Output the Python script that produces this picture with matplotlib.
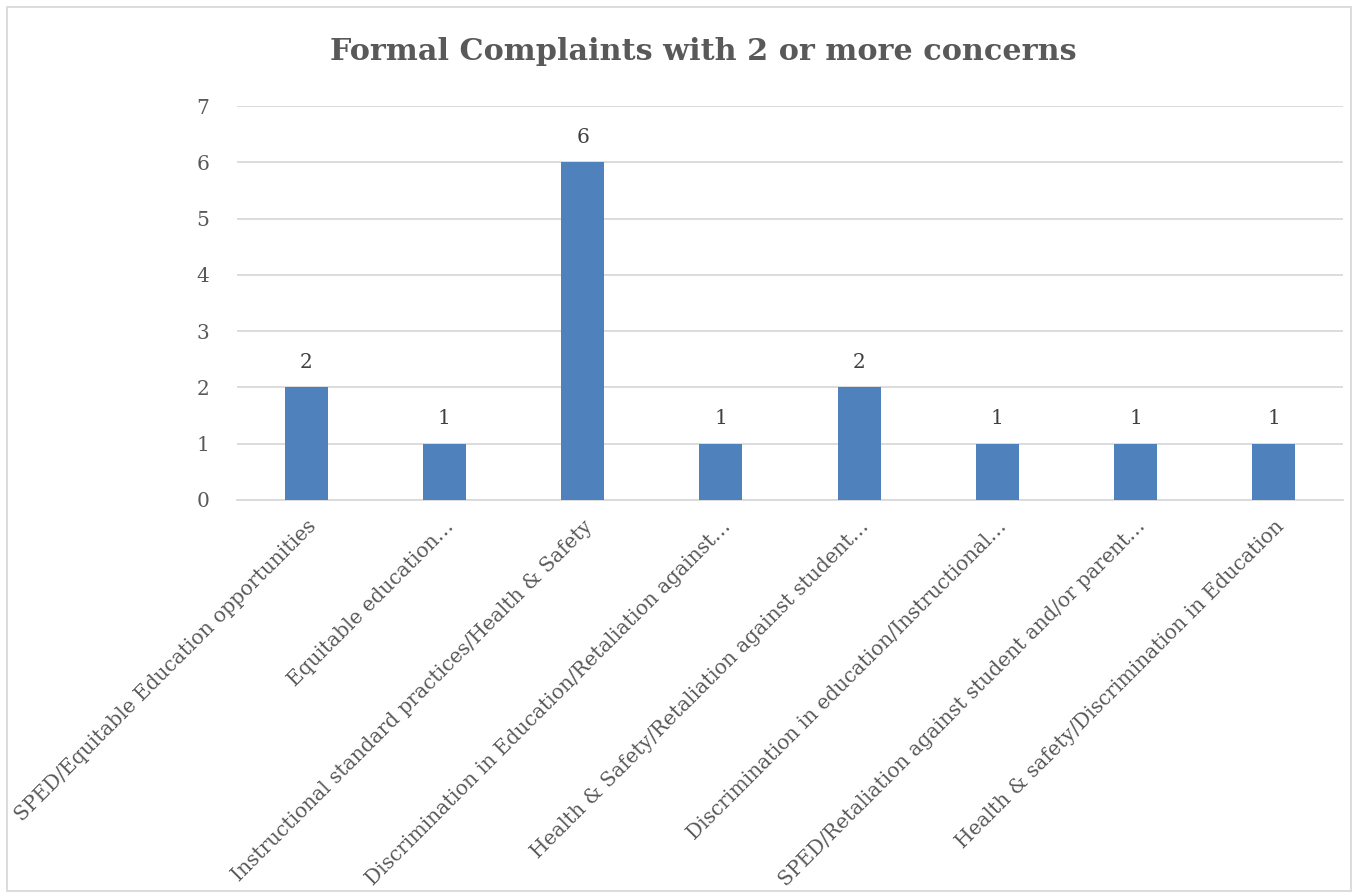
import matplotlib
matplotlib.use("Agg")
import matplotlib.pyplot as plt
from matplotlib.patches import Rectangle

categories = [
    "SPED/Equitable Education opportunities",
    "Equitable education…",
    "Instructional standard practices/Health & Safety",
    "Discrimination in Education/Retaliation against…",
    "Health & Safety/Retaliation against student…",
    "Discrimination in education/Instructional…",
    "SPED/Retaliation against student and/or parent…",
    "Health & safety/Discrimination in Education",
]
counts = [2, 1, 6, 1, 2, 1, 1, 1]
y_ticks = [0, 1, 2, 3, 4, 5, 6, 7]

plt.rcParams["font.family"] = ["DejaVu Serif"]

fig = plt.figure(figsize=(13.54, 8.92), dpi=100)
W, H = 1354, 892
ax = fig.add_axes([237 / W, 1 - 500 / H, (1343 - 237) / W, (500 - 106) / H])

x = range(len(categories))
bars = ax.bar(x, counts, width=0.31, color="#4f81bd", zorder=3)
# value labels above each bar
for b, v in zip(bars, counts):
    ax.text(b.get_x() + b.get_width() / 2, v + 0.28, str(v), ha="center", va="bottom",
            fontsize=14.5, color="#404040")

ax.set_xlim(-0.5, len(categories) - 0.5)
ax.set_ylim(0, 7)
ax.set_yticks(y_ticks)
ax.yaxis.grid(True, color="#d9d9d9", linewidth=1.3, zorder=0)
ax.tick_params(axis="y", length=0, pad=20, labelsize=14.5, labelcolor="#595959")
ax.tick_params(axis="x", length=0, pad=12, labelsize=14.5, labelcolor="#595959")
ax.set_xticks(list(x))
ax.set_xticklabels(categories, rotation=45, ha="right", rotation_mode="anchor")
for s in ["top", "right", "left"]:
    ax.spines[s].set_visible(False)
ax.spines["bottom"].set_color("#d9d9d9")
ax.spines["bottom"].set_linewidth(1.3)

fig.text(703 / W, 1 - 52 / H, "Formal Complaints with 2 or more concerns", ha="center",
         va="center", fontsize=21.75, fontweight="bold", color="#595959")

# chart border
fig.patches.append(Rectangle((7 / W, 1 / H), (1351 - 7) / W, (885 - 1) / H,
                             transform=fig.transFigure, fill=False,
                             edgecolor="#d9d9d9", linewidth=1.3))

fig.savefig("out.png", dpi=100)
